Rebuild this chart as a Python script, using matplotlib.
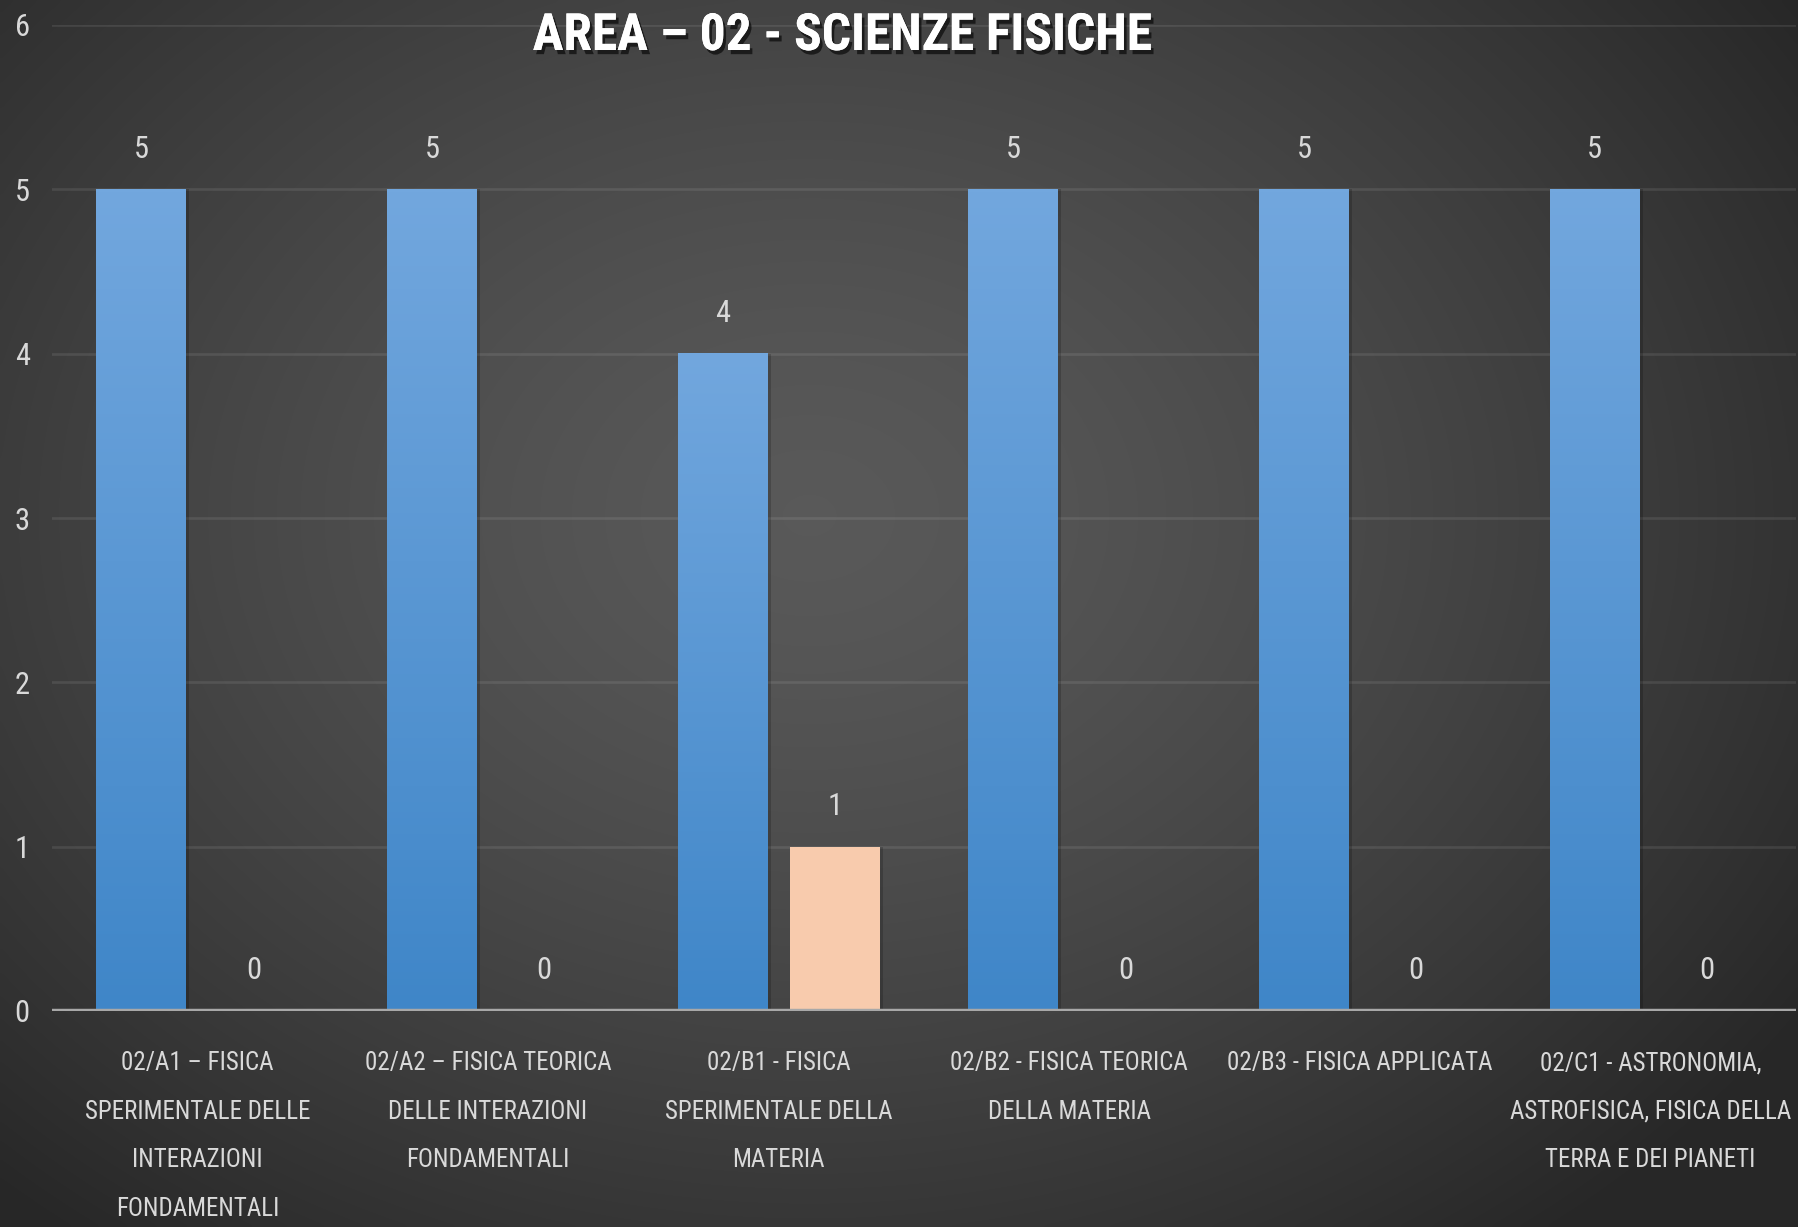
import numpy as np
import matplotlib
matplotlib.use("Agg")
import matplotlib.pyplot as plt
from matplotlib import font_manager as fm
from matplotlib import patheffects as pe
from matplotlib import transforms as mtransforms
from matplotlib.colors import LinearSegmentedColormap

# ---- data ----
categories = [
    "02/A1 – FISICA\nSPERIMENTALE DELLE\nINTERAZIONI\nFONDAMENTALI",
    "02/A2 – FISICA TEORICA\nDELLE INTERAZIONI\nFONDAMENTALI",
    "02/B1 - FISICA\nSPERIMENTALE DELLA\nMATERIA",
    "02/B2 - FISICA TEORICA\nDELLA MATERIA",
    "02/B3 - FISICA APPLICATA",
    "02/C1 - ASTRONOMIA,\nASTROFISICA, FISICA DELLA\nTERRA E DEI PIANETI",
]
series_a = [5, 5, 4, 5, 5, 5]
series_b = [0, 0, 1, 0, 0, 0]
y_ticks = [0, 1, 2, 3, 4, 5, 6]
title = "AREA – 02 - SCIENZE FISICHE"

# ---- pick a narrow sans family if one is installed ----
available = {f.name for f in fm.fontManager.ttflist}
FONT = "DejaVu Sans"
for cand in ["Roboto Condensed", "Liberation Sans Narrow", "Open Sans Condensed",
             "DejaVu Sans Condensed", "Liberation Sans"]:
    if cand in available:
        FONT = cand
        break
plt.rcParams["font.family"] = [FONT, "DejaVu Sans"]

TXT = "#d9d9d9"
W, H, DPI = 1799, 1227, 100
fig = plt.figure(figsize=(W / DPI, H / DPI), dpi=DPI)

# radial dark background
bg_ax = fig.add_axes([0, 0, 1, 1], zorder=-10)
yy, xx = np.mgrid[0:1:300j, 0:1:440j]
r = np.sqrt(((xx - 0.45) / 0.66) ** 2 + ((yy - 0.42) / 0.75) ** 2)
r = np.clip(r, 0, 1)
shade = 0.35 - (0.35 - 0.155) * r ** 1.4
bg_ax.imshow(np.dstack([shade, shade, shade]), extent=[0, 1, 0, 1],
             origin="upper", aspect="auto", interpolation="bicubic")
bg_ax.set_axis_off()

ax = fig.add_axes([52 / W, 1 - 1011 / H, (1796 - 52) / W, (1011 - 25) / H])
ax.set_facecolor("none")
ax.set_xlim(-0.5, len(categories) - 0.5)
ax.set_ylim(0, 6)

x = np.arange(len(categories))
bw = 0.308
off = 0.193

blue_cmap = LinearSegmentedColormap.from_list("bluegrad", ["#3f86c8", "#72a7de"])
grad = np.linspace(0, 1, 256).reshape(-1, 1)

bars_a = ax.bar(x - off, series_a, width=bw, color="#4f93d4", zorder=3, linewidth=0)
bars_b = ax.bar(x + off, series_b, width=bw, color="#f8cbad", zorder=3, linewidth=0)

# soft shadow behind the bars, vertical gradient on the blue ones
for b in list(bars_a) + list(bars_b):
    h = b.get_height()
    if h <= 0:
        continue
    x0 = b.get_x()
    ax.bar(x0 + bw / 2 + 0.012, h, width=bw, color="black",
           alpha=0.18, zorder=2.5, linewidth=0)
for b in bars_a:
    x0, h = b.get_x(), b.get_height()
    ax.imshow(grad, cmap=blue_cmap, extent=[x0, x0 + bw, 0, h],
              origin="lower", aspect="auto", zorder=3.1)

# gridlines
for t in y_ticks[1:]:
    ax.axhline(t, color="white", alpha=0.09, lw=1.9, zorder=1)
ax.axhline(0, color="#a8a8a8", lw=3.2, zorder=4)

for s in ax.spines.values():
    s.set_visible(False)

ax.set_yticks(y_ticks)
ax.set_yticklabels([str(t) for t in y_ticks])
ax.tick_params(axis="y", length=0, pad=16, labelsize=22, labelcolor=TXT)

# category labels, wrapped over several lines under each group
ax.set_xticks(x)
ax.set_xticklabels([])
ax.tick_params(axis="x", length=0)
cat_tf = mtransforms.blended_transform_factory(ax.transData, fig.transFigure)
for xi, label in zip(x, categories):
    ax.text(xi, 1 - 1051 / H, label, transform=cat_tf, ha="center", va="top",
            fontsize=18, color=TXT, linespacing=2.3, clip_on=False)

# value labels
for bars, vals in ((bars_a, series_a), (bars_b, series_b)):
    for b, v in zip(bars, vals):
        ax.annotate(str(v), (b.get_x() + bw / 2, v), xytext=(0, 29),
                    textcoords="offset points", ha="center", va="center",
                    fontsize=22, color=TXT, zorder=5)

fig.text(842 / W, 1 - 36 / H, title, ha="center", va="center",
         fontsize=37, fontweight="bold", color="white",
         path_effects=[pe.withSimplePatchShadow(offset=(2, -3), shadow_rgbFace="black",
                                                alpha=0.6), pe.Normal()])

fig.savefig("out.png", dpi=DPI)
